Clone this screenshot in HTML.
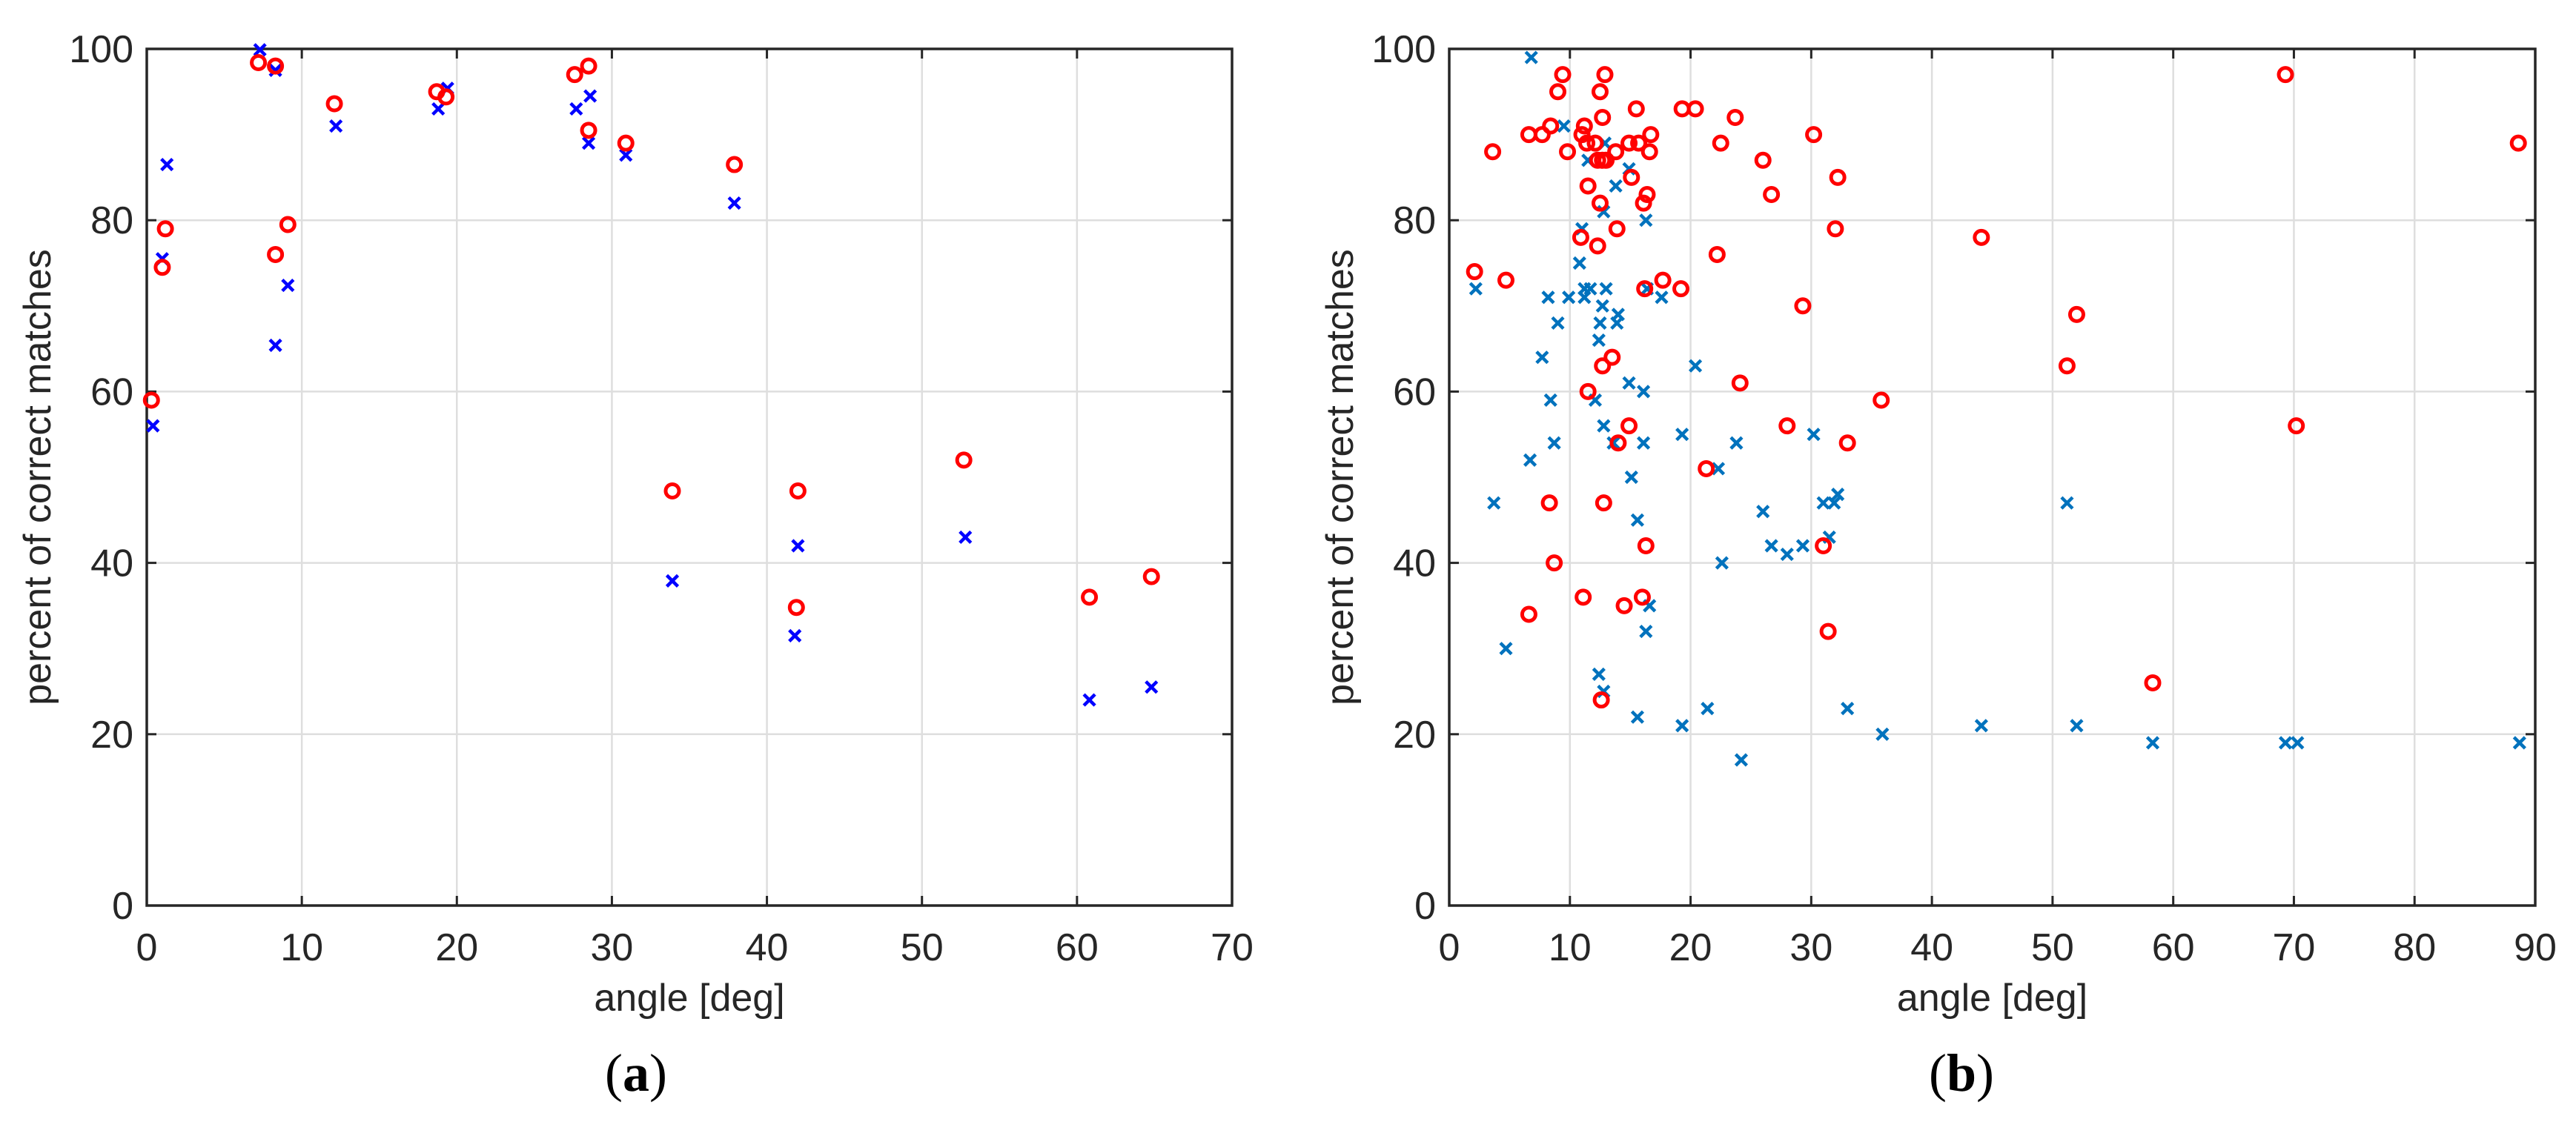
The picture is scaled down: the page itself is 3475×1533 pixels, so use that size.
<!DOCTYPE html>
<html><head><meta charset="utf-8"><style>
html,body{margin:0;padding:0;background:#fff}
svg{display:block}
text{font-family:"Liberation Sans",sans-serif;fill:#262626}
</style></head><body>
<svg id="fig" width="3475" height="1533" viewBox="0 0 3475 1533" xmlns="http://www.w3.org/2000/svg"></svg>
<script>
// Panel (a) data
const aRedX=[0.3,1.0,1.2,7.2,8.3,8.3,9.1,12.1,18.7,19.3,27.6,28.5,28.5,30.9,37.9,33.9,42.0,41.9,52.7,60.8,64.8];
const aRedY=[59,74.5,79,98.4,98,76,79.5,93.6,95,94.4,97,98,90.5,89,86.5,48.4,48.4,34.8,52,36,38.4];
const aBlueX=[0.4,1.0,1.3,7.3,8.3,8.3,9.1,12.2,18.8,19.4,27.7,28.6,28.5,30.9,37.9,33.9,42.0,41.8,52.8,60.8,64.8];
const aBlueY=[56,75.5,86.5,99.9,97.5,65.4,72.4,91,93,95.4,93,94.5,89,87.6,82,37.9,42,31.5,43,24,25.5];
const aXTicks=[0,10,20,30,40,50,60,70];
// Panel (b) data
const bRedX=[2.1,3.6,4.7,6.6,6.6,7.7,8.3,8.4,8.7,9.0,9.4,9.8,10.9,11.0,11.2,11.1,11.5,11.5,11.4,12.1,12.3,12.5,12.3,12.5,12.7,12.7,12.7,12.8,12.6,12.9,13.0,13.5,13.9,13.8,14.0,14.5,14.9,14.9,15.1,15.5,15.7,16.1,16.2,16.0,16.3,16.4,16.6,16.7,17.7,19.2,19.3,20.4,21.3,22.2,22.5,23.7,24.1,26.0,26.7,28.0,29.3,30.2,31.0,31.4,32.0,32.2,33.0,35.8,44.1,51.2,52.0,58.3,69.3,70.2,88.6];
const bRedY=[74,88,73,90,34,90,47,91,40,95,97,88,78,90,91,36,84,60,89,89,77,82,87,95,87,63,92,47,24,97,87,64,79,88,54,35,89,56,85,93,89,82,72,36,42,83,88,90,73,72,93,93,51,76,89,92,61,87,83,56,70,90,42,32,79,85,54,59,78,63,69,26,97,56,89];
const bBlueX=[2.2,3.7,4.7,6.7,6.8,7.7,8.2,8.4,8.7,9.0,9.5,9.9,10.8,11.0,11.2,11.2,11.5,11.7,12.1,12.4,12.4,12.5,12.7,12.8,12.8,12.8,13.0,12.9,13.6,13.8,13.9,14.0,14.9,14.9,15.1,15.6,15.6,16.1,16.1,16.3,16.3,16.4,16.6,17.6,19.3,19.3,20.4,21.4,22.3,22.6,23.8,24.2,26.0,26.7,28.0,29.3,30.2,31.0,31.5,31.9,32.2,33.0,35.9,44.1,51.2,52.0,58.3,69.3,70.3,88.7];
const bBlueY=[72,47,30,52,99,64,71,59,54,68,91,71,75,79,72,71,87,72,59,66,27,68,70,56,25,81,72,89,54,84,68,69,61,86,50,45,22,60,54,32,80,72,35,71,55,21,63,23,51,40,54,17,46,42,41,42,55,47,43,47,48,23,20,21,47,21,19,19,19,19];
const bXTicks=[0,10,20,30,40,50,60,70,80,90];
const yTicks=[0,20,40,60,80,100];

const NS="http://www.w3.org/2000/svg";
const svg=document.getElementById('fig');
function mk(tag,attrs,parent){const e=document.createElementNS(NS,tag);for(const k in attrs)e.setAttribute(k,attrs[k]);(parent||svg).appendChild(e);return e;}

function panel(id,L,R,T,B,xmax,xt,rx,ry,bx,by,blue,label,labelX){
  const g=mk('g',{});
  
  
  const sx=v=>L+(R-L)*v/xmax, sy=v=>B-(B-T)*v/100;
  xt.forEach(t=>{if(t>0&&t<xmax){const l=mk('line',{x1:sx(t),x2:sx(t),y1:T,y2:B,stroke:'#dedede','stroke-width':2.5},g);
    }});
  yTicks.forEach(t=>{if(t>0&&t<100){const l=mk('line',{x1:L,x2:R,y1:sy(t),y2:sy(t),stroke:'#dedede','stroke-width':2.5},g);
    }});
  xt.forEach(t=>{
    mk('line',{x1:sx(t),x2:sx(t),y1:B,y2:B-13,stroke:'#262626','stroke-width':3},g);
    mk('line',{x1:sx(t),x2:sx(t),y1:T,y2:T+13,stroke:'#262626','stroke-width':3},g);
    const tx=mk('text',{x:sx(t),y:B+74,'font-size':52,'text-anchor':'middle'},g);
    tx.textContent=t;
    
  });
  yTicks.forEach(t=>{
    mk('line',{x1:L,x2:L+13,y1:sy(t),y2:sy(t),stroke:'#262626','stroke-width':3},g);
    mk('line',{x1:R,x2:R-13,y1:sy(t),y2:sy(t),stroke:'#262626','stroke-width':3},g);
    const tx=mk('text',{x:L-18,y:sy(t)+18,'font-size':52,'text-anchor':'end'},g);
    tx.textContent=t;
    
  });
  const box=mk('rect',{x:L,y:T,width:R-L,height:B-T,fill:'none',stroke:'#262626','stroke-width':3.5},g);
  
  bx.forEach((v,i)=>{const cx=sx(v),cy=sy(by[i]);
    const p=mk('path',{d:`M${cx-7.5},${cy-7.5}L${cx+7.5},${cy+7.5}M${cx-7.5},${cy+7.5}L${cx+7.5},${cy-7.5}`,stroke:blue,'stroke-width':4.5,fill:'none'},g);
    });
  rx.forEach((v,i)=>{
    const c=mk('circle',{cx:sx(v),cy:sy(ry[i]),r:9,stroke:'#ff0000','stroke-width':5,fill:'none'},g);
    });
  const xl=mk('text',{x:(L+R)/2,y:B+142,'font-size':52,'text-anchor':'middle'},g);
  xl.textContent='angle [deg]';
  
  const yx=L-130, yy=(T+B)/2;
  const yl=mk('text',{x:yx,y:yy,'font-size':52,'text-anchor':'middle',transform:`rotate(-90 ${yx} ${yy})`},g);
  yl.textContent='percent of correct matches';
  
  const cap=mk('text',{x:labelX,y:1472,'font-size':72,'text-anchor':'middle',style:'font-family:"Liberation Serif",serif;fill:#000'},g);
  cap.innerHTML='(<tspan font-weight="bold">'+label+'</tspan>)';
  
}
panel('a',198,1662,66,1222,70,aXTicks,aRedX,aRedY,aBlueX,aBlueY,'#0000ff','a',858);
panel('b',1955,3420,66,1222,90,bXTicks,bRedX,bRedY,bBlueX,bBlueY,'#0072bd','b',2646);
</script>
</body></html>
